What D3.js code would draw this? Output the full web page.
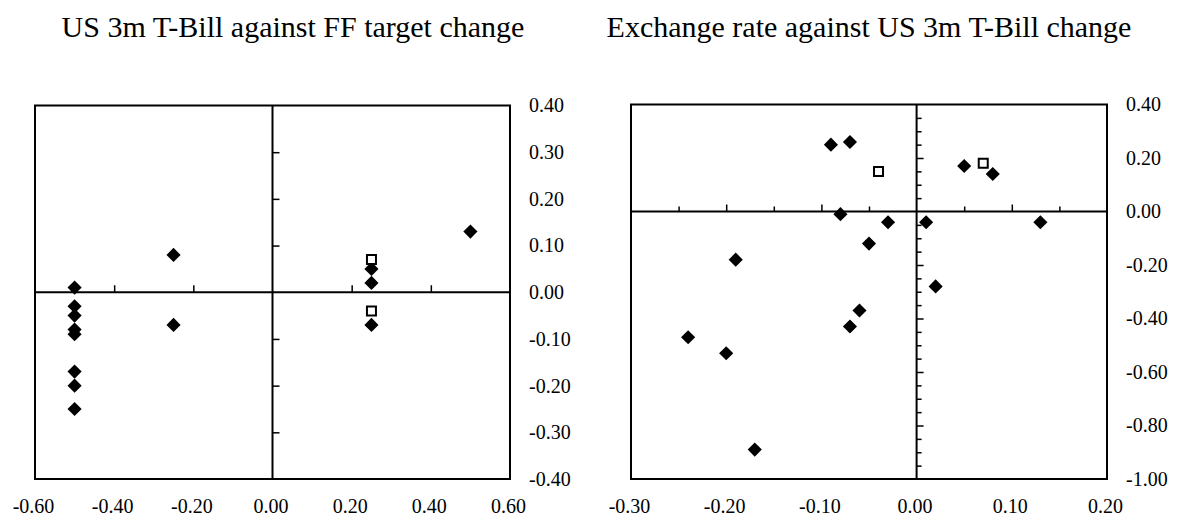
<!DOCTYPE html>
<html>
<head>
<meta charset="utf-8">
<script src="https://cdn.jsdelivr.net/npm/d3@7"></script>
<style>
  body { margin: 0; background: #fff; }
</style>
</head>
<body>
<svg id="chart" width="1194" height="520"></svg>
<script>
// left panel: FF target change (x) vs US 3m T-Bill change (y)
const ffDiamondX = [-0.5, -0.5, -0.5, -0.5, -0.5, -0.5, -0.5, -0.5, -0.25, -0.25, 0.25, 0.25, 0.25, 0.5];
const ffDiamondY = [0.01, -0.03, -0.05, -0.08, -0.09, -0.17, -0.2, -0.25, 0.08, -0.07, 0.05, 0.02, -0.07, 0.13];
const ffSquareX = [0.25, 0.25];
const ffSquareY = [0.07, -0.04];
const ffXTicks = [-0.6, -0.4, -0.2, 0, 0.2, 0.4, 0.6];
const ffYTicks = [0.4, 0.3, 0.2, 0.1, 0, -0.1, -0.2, -0.3, -0.4];

// right panel: US 3m T-Bill change (x) vs exchange rate change (y)
const fxDiamondX = [-0.09, -0.07, -0.08, -0.03, -0.05, -0.19, -0.24, -0.2, -0.17, -0.07, -0.06, 0.05, 0.08, 0.01, 0.13, 0.02];
const fxDiamondY = [0.25, 0.26, -0.01, -0.04, -0.12, -0.18, -0.47, -0.53, -0.89, -0.43, -0.37, 0.17, 0.14, -0.04, -0.04, -0.28];
const fxSquareX = [-0.04, 0.07];
const fxSquareY = [0.15, 0.18];
const fxXTicks = [-0.3, -0.2, -0.1, 0, 0.1, 0.2];
const fxYTicks = [0.4, 0.2, 0, -0.2, -0.4, -0.6, -0.8, -1.0];

const FONT = '"Liberation Serif", "Times New Roman", serif';
const svg = d3.select('#chart');
const fmt = (d) => d.toFixed(2);

const diamond = d3.symbol().type(d3.symbolSquare).size(100)();
const square = d3.symbol().type(d3.symbolSquare).size(81)();

function panel(o) {
  const x = d3.scaleLinear().domain(o.xDomain).range(o.xRange);
  const y = d3.scaleLinear().domain(o.yDomain).range(o.yRange);
  const g = svg.append('g');

  g.append('text')
    .attr('x', o.titleX)
    .attr('y', 37)
    .attr('text-anchor', 'middle')
    .attr('font-family', FONT)
    .attr('font-size', 30)
    .attr('fill', '#000')
    .text(o.title);

  // inner ticks on the zero lines
  g.append('g')
    .attr('transform', `translate(0,${y(0)})`)
    .call(d3.axisTop(x).tickValues(o.xInner).tickFormat(''))
    .call((s) => s.select('.domain').remove())
    .selectAll('line')
    .attr('stroke', '#000')
    .attr('stroke-width', 1.5)
    .attr('y2', (d) => -o.xTickLen(d));

  g.append('g')
    .attr('transform', `translate(${x(0)},0)`)
    .call(d3.axisRight(y).tickValues(o.yInner).tickFormat(''))
    .call((s) => s.select('.domain').remove())
    .selectAll('line')
    .attr('stroke', '#000')
    .attr('stroke-width', 1.5)
    .attr('x2', (d) => o.yTickLen(d));

  // zero lines
  g.append('line')
    .attr('x1', o.xRange[0]).attr('x2', o.xRange[1])
    .attr('y1', y(0)).attr('y2', y(0))
    .attr('stroke', '#000').attr('stroke-width', 2);
  g.append('line')
    .attr('x1', x(0)).attr('x2', x(0))
    .attr('y1', o.yRange[0]).attr('y2', o.yRange[1])
    .attr('stroke', '#000').attr('stroke-width', 2);

  // frame
  g.append('rect')
    .attr('x', o.xRange[0])
    .attr('y', o.yRange[1])
    .attr('width', o.xRange[1] - o.xRange[0])
    .attr('height', o.yRange[0] - o.yRange[1])
    .attr('fill', 'none')
    .attr('stroke', '#000')
    .attr('stroke-width', 2);

  // labels
  const xl = g.append('g')
    .attr('transform', `translate(0,${o.yRange[0]})`)
    .call(d3.axisBottom(x).tickValues(o.xTicks).tickSize(0).tickPadding(20).tickFormat(fmt))
    .attr('font-family', FONT)
    .attr('font-size', 20);
  xl.select('.domain').remove();
  xl.selectAll('text').attr('dx', -2).attr('fill', '#000');

  const yl = g.append('g')
    .attr('transform', `translate(${o.xRange[1]},0)`)
    .call(d3.axisRight(y).tickValues(o.yTicks).tickSize(0).tickPadding(19).tickFormat(fmt))
    .attr('font-family', FONT)
    .attr('font-size', 20);
  yl.select('.domain').remove();
  yl.selectAll('text').attr('fill', '#000');

  // points
  g.selectAll('path.dia')
    .data(d3.zip(o.dx, o.dy))
    .enter()
    .append('path')
    .attr('class', 'dia')
    .attr('d', diamond)
    .attr('transform', (d) => `translate(${x(d[0])},${y(d[1])}) rotate(45)`)
    .attr('fill', '#000');

  g.selectAll('path.sq')
    .data(d3.zip(o.sx, o.sy))
    .enter()
    .append('path')
    .attr('class', 'sq')
    .attr('d', square)
    .attr('transform', (d) => `translate(${x(d[0])},${y(d[1])})`)
    .attr('fill', '#fff')
    .attr('stroke', '#000')
    .attr('stroke-width', 2);
}

panel({
  title: 'US 3m T-Bill against FF target change',
  titleX: 293,
  xDomain: [-0.6, 0.6], xRange: [35, 510],
  yDomain: [-0.4, 0.4], yRange: [479, 105.5],
  xTicks: ffXTicks, yTicks: ffYTicks,
  xInner: [-0.4, -0.2, 0.2, 0.4],
  yInner: [0.3, 0.2, 0.1, -0.1, -0.2, -0.3],
  xTickLen: () => 7, yTickLen: () => 7,
  dx: ffDiamondX, dy: ffDiamondY, sx: ffSquareX, sy: ffSquareY,
});

panel({
  title: 'Exchange rate against US 3m T-Bill change',
  titleX: 869,
  xDomain: [-0.3, 0.2], xRange: [631, 1107],
  yDomain: [-1.0, 0.4], yRange: [479, 104.5],
  xTicks: fxXTicks, yTicks: fxYTicks,
  xInner: d3.range(-5, 4).filter((i) => i !== 0).map((i) => i * 0.05),
  yInner: d3.range(-19, 8).filter((i) => i !== 0).map((i) => i * 0.05),
  xTickLen: (d) => (Math.abs(Math.round(d * 100)) % 10 === 0 ? 7 : 5),
  yTickLen: (d) => (Math.abs(Math.round(d * 100)) % 20 === 0 ? 7 : 5),
  dx: fxDiamondX, dy: fxDiamondY, sx: fxSquareX, sy: fxSquareY,
});
</script>
</body>
</html>
